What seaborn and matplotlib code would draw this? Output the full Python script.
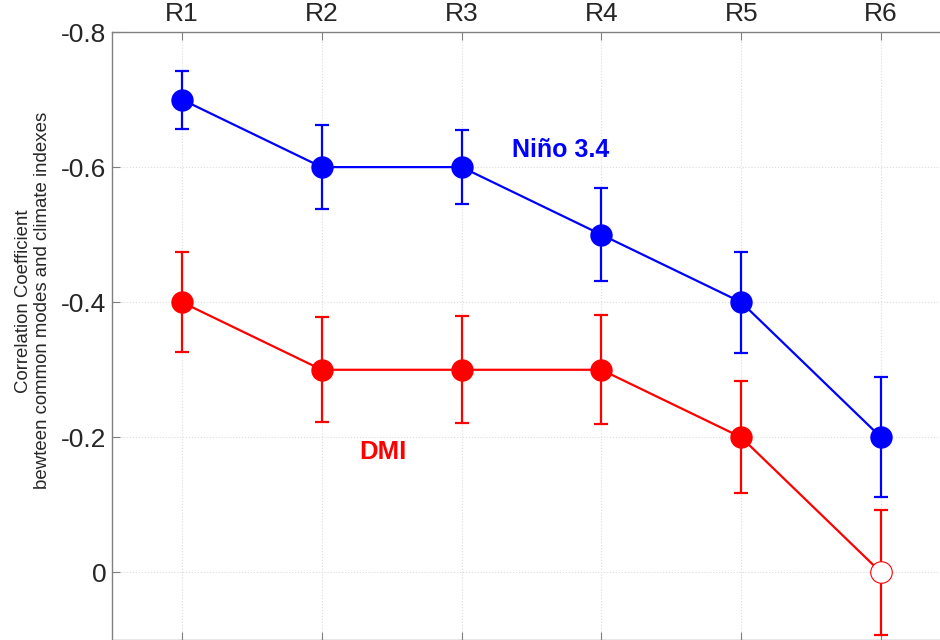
import numpy as np
import pandas as pd
import matplotlib
matplotlib.use("Agg")
import matplotlib.pyplot as plt
import seaborn as sns

# data
regions = ["R1", "R2", "R3", "R4", "R5", "R6"]
nino_r = [-0.7, -0.6, -0.6, -0.5, -0.4, -0.2]
nino_err = [0.043, 0.062, 0.055, 0.069, 0.075, 0.089]
dmi_r = [-0.4, -0.3, -0.3, -0.3, -0.2, 0.0]
dmi_err = [0.074, 0.078, 0.079, 0.081, 0.083, 0.092]
dmi_sig = [True, True, True, True, True, False]
yticks = [-0.8, -0.6, -0.4, -0.2, 0.0]
ytick_labels = ["-0.8", "-0.6", "-0.4", "-0.2", "0"]

sns.set_style("white")
plt.rcParams['font.family'] = ['Liberation Sans', 'DejaVu Sans']

x = np.arange(1, len(regions) + 1)
df = pd.DataFrame({"x": np.concatenate([x, x]),
                   "r": nino_r + dmi_r,
                   "index": ["nino"] * 6 + ["dmi"] * 6})

fig = plt.figure(figsize=(9.4, 6.4), dpi=100)
ax = fig.add_axes([112 / 940, 0.0, 0.8925, 0.95])

# grid
ax.grid(True, color="#dcdcdc", linestyle=":", linewidth=0.8)
ax.set_axisbelow(True)

colors = {"nino": "#0000ff", "dmi": "#ff0000"}

# error bars
ax.errorbar(x, nino_r, yerr=nino_err, fmt="none", ecolor=colors["nino"],
            elinewidth=1.6, capsize=5, capthick=1.6, zorder=2)
ax.errorbar(x, dmi_r, yerr=dmi_err, fmt="none", ecolor=colors["dmi"],
            elinewidth=1.6, capsize=5, capthick=1.6, zorder=2)

# connecting lines
sns.lineplot(data=df, x="x", y="r", hue="index", palette=colors,
             linewidth=1.6, legend=False, ax=ax, zorder=3)

# markers (open circle = not significant)
sns.scatterplot(x=x, y=nino_r, color=colors["nino"], s=260, linewidth=0,
                ax=ax, zorder=4)
sig = np.array(dmi_sig)
dmi_arr = np.array(dmi_r)
sns.scatterplot(x=x[sig], y=dmi_arr[sig], color=colors["dmi"], s=260,
                linewidth=0, ax=ax, zorder=4)
sns.scatterplot(x=x[~sig], y=dmi_arr[~sig], facecolor="white",
                edgecolor=colors["dmi"], s=240, linewidth=0.8, ax=ax, zorder=4)

ax.set_xlim(0.5, 6.5)
ax.set_ylim(0.1, -0.8)
ax.set_xticks(x)
ax.set_xticklabels(regions)
ax.set_yticks(yticks)
ax.set_yticklabels(ytick_labels)
ax.xaxis.tick_top()
ax.tick_params(axis="both", direction="in", length=6, width=0.8,
               color="#808080", labelsize=19, pad=4)
ax.tick_params(axis="x", bottom=True, top=True)
ax.tick_params(axis="y", left=True, right=False)
ax.set_xlabel("")
ax.set_ylabel("")

for side in ["left", "top", "right", "bottom"]:
    ax.spines[side].set_color("#808080")
    ax.spines[side].set_linewidth(1.0)

ax.text(3.71, -0.625, "Niño 3.4", color=colors["nino"], fontsize=18,
        fontweight="bold", ha="center", va="center")
ax.text(2.44, -0.178, "DMI", color=colors["dmi"], fontsize=18.5,
        fontweight="bold", ha="center", va="center")

fig.text(0.035, 0.53, "Correlation Coefficient\nbewteen common modes and climate indexes",
         rotation=90, ha="center", va="center", fontsize=13.4, linespacing=1.15)

fig.savefig("out.png", dpi=100)
